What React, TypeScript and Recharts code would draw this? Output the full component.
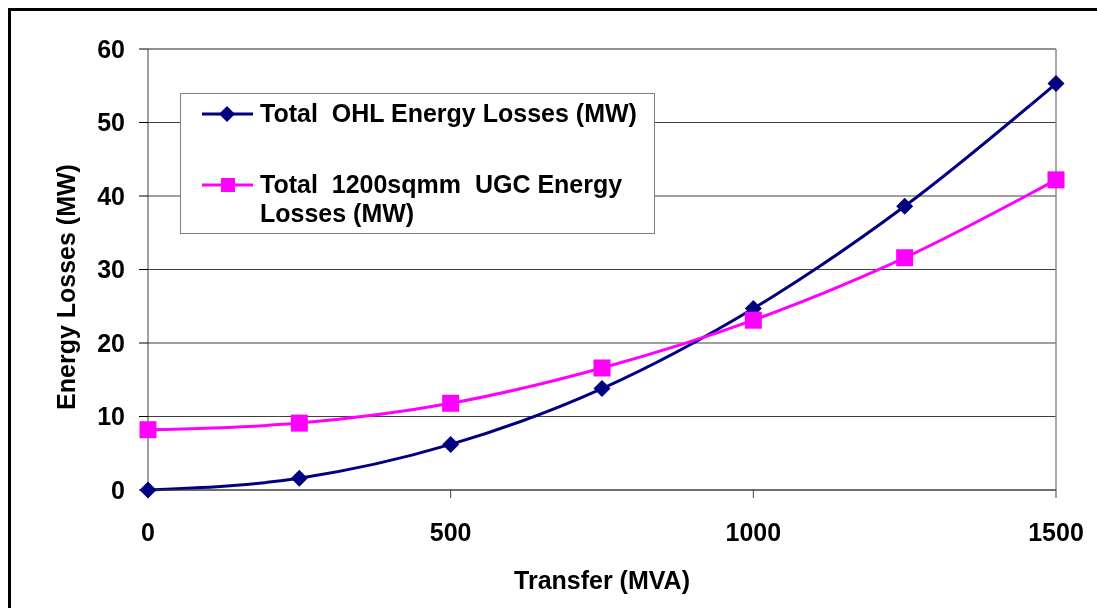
import React from 'react';
import { LineChart, Line, XAxis, YAxis, CartesianGrid, Legend, ReferenceLine, Label } from 'recharts';

const transfer = [0, 250, 500, 750, 1000, 1250, 1500];
const ohlLosses = [0, 1.6, 6.2, 13.8, 24.7, 38.6, 55.3];
const ugcLosses = [8.2, 9.1, 11.8, 16.6, 23.1, 31.6, 42.2];
const xTicks = [0, 500, 1000, 1500];
const yTicks = [0, 10, 20, 30, 40, 50, 60];
const ohlName = 'Total  OHL Energy Losses (MW)';
const ugcName = 'Total  1200sqmm  UGC Energy Losses (MW)';

const data = transfer.map((t, i) => ({ t, ohl: ohlLosses[i], ugc: ugcLosses[i] }));

const FONT = '"Liberation Sans", Arial, sans-serif';
const NAVY = '#000080';
const MAGENTA = '#FF00FF';

const Diamond = (props: any) => {
  const { cx, cy } = props;
  if (cx == null || cy == null) return null;
  const r = 8.5;
  return <path d={`M${cx},${cy - r} L${cx + r},${cy} L${cx},${cy + r} L${cx - r},${cy} Z`} fill={NAVY} stroke="none" />;
};

const Square = (props: any) => {
  const { cx, cy } = props;
  if (cx == null || cy == null) return null;
  const s = 8.5;
  return <rect x={cx - s} y={cy - s} width={2 * s} height={2 * s} fill={MAGENTA} stroke="none" />;
};

const LegendBox = () => (
  <div
    style={{
      position: 'absolute',
      left: 169,
      top: 82,
      width: 473,
      height: 139,
      border: '1px solid #808080',
      background: '#fff',
      fontFamily: FONT,
      fontWeight: 'bold',
      fontSize: 25,
      color: '#000',
    }}
  >
    <svg width={80} height={139} style={{ position: 'absolute', left: 0, top: 0 }}>
      <line x1={21} y1={20} x2={72} y2={20} stroke={NAVY} strokeWidth={3} />
      <path d="M46,12 L54,20 L46,28 L38,20 Z" fill={NAVY} />
      <line x1={21} y1={91} x2={72} y2={91} stroke={MAGENTA} strokeWidth={3} />
      <rect x={40} y={84} width={14} height={14} fill={MAGENTA} />
    </svg>
    <div style={{ position: 'absolute', left: 79, top: 5, lineHeight: '29px', whiteSpace: 'pre' }}>{ohlName}</div>
    <div style={{ position: 'absolute', left: 79, top: 76, lineHeight: '29px', width: 380, whiteSpace: 'pre-wrap' }}>
      {'Total  1200sqmm  UGC Energy\nLosses (MW)'}
    </div>
  </div>
);

export default function App() {
  return (
    <div style={{ position: 'relative', width: 1081, height: 592 }}>
      <div
        style={{
          position: 'fixed',
          left: 8,
          top: 8,
          width: 1200,
          height: 700,
          borderTop: '3px solid #000',
          borderLeft: '3px solid #000',
          pointerEvents: 'none',
        }}
      />
      <div style={{ position: 'absolute', left: 3, top: 3 }}>
        <LineChart width={1078} height={589} data={data} margin={{ top: 38, right: 33, bottom: 0, left: 0 }}>
          <CartesianGrid horizontal vertical={false} stroke="#404040" strokeWidth={1} />
          <ReferenceLine y={60} stroke="#8c8c8c" strokeWidth={1.5} />
          <ReferenceLine x={1500} stroke="#8c8c8c" strokeWidth={1.5} />
          <XAxis
            dataKey="t"
            type="number"
            domain={[0, 1500]}
            ticks={xTicks}
            interval={0}
            height={110}
            tickSize={8}
            tickMargin={25}
            axisLine={{ stroke: '#404040' }}
            tickLine={{ stroke: '#404040' }}
            tick={{ fill: '#000', fontFamily: FONT, fontWeight: 'bold', fontSize: 25 }}
          >
            <Label
              content={(p: any) => {
                const vb = p.viewBox;
                return (
                  <text
                    x={vb.x + vb.width / 2}
                    y={vb.y + 90}
                    dy="0.355em"
                    textAnchor="middle"
                    fill="#000"
                    fontFamily={FONT}
                    fontWeight="bold"
                    fontSize={25}
                  >
                    Transfer (MVA)
                  </text>
                );
              }}
            />
          </XAxis>
          <YAxis
            type="number"
            domain={[0, 60]}
            ticks={yTicks}
            interval={0}
            width={137}
            tickSize={9}
            tickMargin={14}
            axisLine={{ stroke: '#404040' }}
            tickLine={{ stroke: '#000' }}
            tick={{ fill: '#000', fontFamily: FONT, fontWeight: 'bold', fontSize: 25 }}
          >
            <Label
              content={(p: any) => {
                const vb = p.viewBox;
                const cx = vb.x + 55;
                const cy = 276;
                return (
                  <text
                    x={cx}
                    y={cy}
                    dy="0.355em"
                    textAnchor="middle"
                    transform={`rotate(-90 ${cx} ${cy})`}
                    fill="#000"
                    fontFamily={FONT}
                    fontWeight="bold"
                    fontSize={25}
                  >
                    Energy Losses (MW)
                  </text>
                );
              }}
            />
          </YAxis>
          <Legend content={() => <LegendBox />} wrapperStyle={{ position: 'absolute', left: 0, top: 0, width: 0, height: 0 }} />
          <Line
            type="monotone"
            dataKey="ohl"
            name={ohlName}
            stroke={NAVY}
            strokeWidth={3}
            dot={<Diamond />}
            activeDot={false}
            isAnimationActive={false}
          />
          <Line
            type="monotone"
            dataKey="ugc"
            name={ugcName}
            stroke={MAGENTA}
            strokeWidth={3}
            dot={<Square />}
            activeDot={false}
            isAnimationActive={false}
          />
        </LineChart>
      </div>
    </div>
  );
}
